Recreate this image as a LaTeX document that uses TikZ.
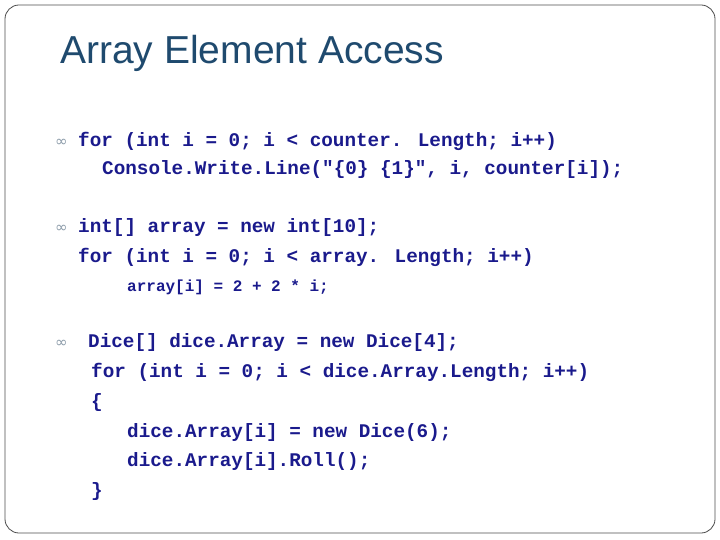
\documentclass[tikz,border=0pt]{standalone}
\usepackage{fontspec}
\setmainfont{Liberation Sans}
\newfontfamily\codefont{Liberation Mono}
\newfontfamily\bulfont{DejaVu Sans}
\definecolor{code}{HTML}{1A1A8C}
\definecolor{ttl}{HTML}{1F4A6E}
\definecolor{bul}{HTML}{8A9AA8}
\begin{document}
\begin{tikzpicture}[x=1pt,y=-1pt,
  ln/.style={anchor=base west,inner sep=0pt,text=code,font=\codefont\bfseries\fontsize{19.3}{20}\selectfont},
  sm/.style={ln,font=\codefont\bfseries\fontsize{16}{17}\selectfont},
  bl/.style={anchor=base west,inner sep=0pt,text=bul,font=\bulfont\fontsize{15}{16}\selectfont}]
\useasboundingbox (0,0) rectangle (720,540);
\draw[rounded corners=14pt,line width=0.8pt,draw=black!70] (5,5) rectangle (715,533);
\node[anchor=base west,inner sep=0pt,text=ttl,font=\fontsize{39}{42}\selectfont] (t) at (60,64) {Array Element Access};
\node[bl] (b1) at (55,147) {∞};
\node[ln] (l1) at (78,147) {for (int i = 0; i < counter. Length; i++)};
\node[ln] (l2) at (102,175) {Console.Write.Line("\{0\} \{1\}", i, counter[i]);};
\node[bl] (b2) at (55,233) {∞};
\node[ln] (l3) at (78,233) {int[] array = new int[10];};
\node[ln] (l4) at (78,262) {for (int i = 0; i < array. Length; i++)};
\node[sm] (l5) at (127,291) {array[i] = 2 + 2 * i;};
\node[bl] (b3) at (55,347) {∞};
\node[ln] (l6) at (88,347) {Dice[] dice.Array = new Dice[4];};
\node[ln] (l7) at (91,377) {for (int i = 0; i < dice.Array.Length; i++)};
\node[ln] (l8) at (91,407) {\{};
\node[ln] (l9) at (127,437) {dice.Array[i] = new Dice(6);};
\node[ln] (l10) at (127,466) {dice.Array[i].Roll();};
\node[ln] (l11) at (91,496) {\}};
\end{tikzpicture}
\end{document}
